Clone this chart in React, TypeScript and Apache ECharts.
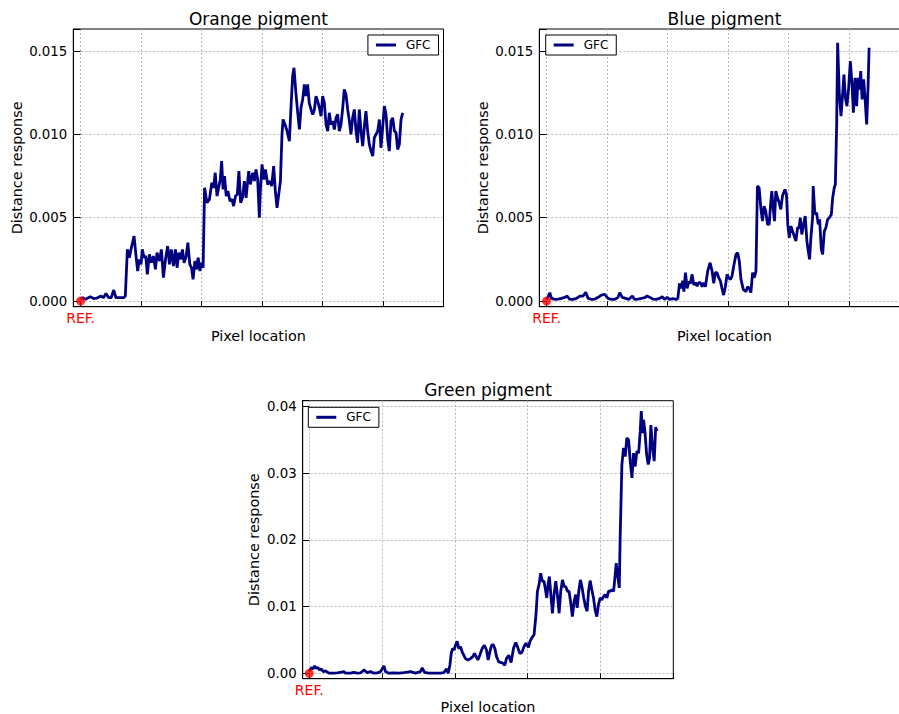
import React, { useEffect, useRef } from "react";
import * as echarts from "echarts";

// Pixel location (x) and distance response (y) of the GFC curve for each pigment
const orangeLocation = [
  0, 1.7, 3.9, 8, 10.8, 13.5, 17, 19, 21, 23.2, 25.4, 27.3, 29.3, 33, 35.6, 37, 38.7, 40.3, 42, 44.2,
  46, 47.2, 48.6, 50, 51, 52.5, 53.9, 55.2, 56.9, 58.6, 60.2, 61.9, 63.2, 65.2, 66.8, 68.5, 70.2, 72, 73.5, 75,
  76.8, 78.4, 79.8, 81.2, 82.9, 84.2, 85.6, 87.3, 88.7, 90.3, 91.7, 93, 94.5, 95.8, 97.2, 98.6, 100, 101.3, 102.5, 104.5,
  106.5, 108.5, 110, 111.3, 112.8, 114.4, 115.5, 116.6, 117.8, 119, 120.4, 121.8, 123.5, 125.2, 126.5, 128.1, 129.6, 130.9, 132.3, 133.8,
  135.4, 136.8, 139, 140.4, 142.3, 143.7, 145, 146.4, 147.8, 148.6, 150, 151.4, 152.8, 154.7, 156.6, 158, 159.6, 161, 162.4, 163.8,
  165.2, 166.5, 167.4, 169, 170.7, 172.6, 174, 175.3, 176.4, 178, 179.5, 180.9, 182.2, 183.6, 185, 186.4, 187.7, 189, 190.5, 191.9,
  193.3, 194.6, 196, 197.4, 198.8, 200.1, 201.5, 202.9, 204.3, 205.6, 207, 208.4, 209.8, 211.2, 212.5, 213.9, 215.3, 216.7, 218, 219.4,
  220.8, 222.2, 223.5, 224.9, 226.3, 227.7, 229, 230.4, 231.8, 233.2, 234.6, 235.9, 237.3, 238.7, 240.1, 241.5, 242.8, 244.2, 245.6, 247,
  248.3, 249.7, 251.1, 252.5, 253.9, 255.2, 256.6, 258, 259.4, 260.8, 262.1, 263.5, 264.9, 266.3,
];
const orangeResponse = [
  0.0001, 0.0002, 0.0001, 0.00026, 0.00015, 0.00018, 0.0003, 0.0002, 0.00046, 0.0002, 0.0002, 0.00066, 0.0002, 0.0002, 0.0002, 0.0003, 0.0031, 0.0026, 0.0032, 0.0039,
  0.0026, 0.0018, 0.0025, 0.0022, 0.0031, 0.0026, 0.0027, 0.0016, 0.0028, 0.0023, 0.0027, 0.0019, 0.0029, 0.0024, 0.0031, 0.0014, 0.0025, 0.0033, 0.0022, 0.0031,
  0.0021, 0.0031, 0.002, 0.0029, 0.0025, 0.0031, 0.0023, 0.0027, 0.0035, 0.0022, 0.002, 0.0013, 0.0024, 0.0019, 0.0026, 0.0018, 0.0023, 0.002, 0.0068, 0.0059,
  0.0061, 0.0071, 0.0068, 0.0077, 0.0063, 0.0069, 0.0073, 0.0084, 0.0067, 0.0075, 0.0063, 0.0066, 0.006, 0.0061, 0.0057, 0.0063, 0.0064, 0.0078, 0.0059, 0.0062,
  0.0072, 0.0062, 0.0078, 0.007, 0.0077, 0.0072, 0.0079, 0.0073, 0.005, 0.0066, 0.0082, 0.0073, 0.0079, 0.007, 0.0072, 0.0069, 0.0081, 0.0066, 0.0056, 0.0064,
  0.0072, 0.01, 0.0109, 0.0106, 0.0102, 0.0096, 0.0117, 0.0135, 0.014, 0.0125, 0.0113, 0.0103, 0.0116, 0.0121, 0.013, 0.0123, 0.013, 0.0119, 0.0115, 0.0112,
  0.0115, 0.0123, 0.012, 0.0116, 0.0111, 0.0123, 0.0119, 0.0106, 0.0102, 0.0113, 0.0106, 0.0108, 0.0103, 0.011, 0.0112, 0.0102, 0.0106, 0.0116, 0.0127, 0.0124,
  0.0115, 0.0108, 0.01, 0.011, 0.0115, 0.0102, 0.0095, 0.0115, 0.0102, 0.0093, 0.0105, 0.0114, 0.0102, 0.0094, 0.009, 0.0087, 0.0098, 0.01, 0.0102, 0.0109,
  0.0092, 0.0104, 0.0117, 0.0112, 0.0097, 0.009, 0.0108, 0.011, 0.0102, 0.0101, 0.0091, 0.0094, 0.0109, 0.0113,
];

const blueLocation = [
  0, 1.4, 2.7, 4.1, 6.9, 9.6, 12.4, 15.1, 17, 19.2, 22, 24.7, 27.5, 30.2, 32.4, 34.3, 37.1, 39.8, 42.6, 45.3,
  48.1, 50.8, 53.6, 56.3, 59.1, 60.4, 62.6, 65.4, 68.1, 70.9, 72.8, 75.5, 78.3, 81, 83.2, 85.2, 87.9, 90.7, 93.4, 95.6,
  97.5, 99.7, 101.6, 104.4, 107.1, 108.5, 109.9, 111.3, 112.6, 113.5, 114.8, 116.2, 117.6, 118.9, 120.3, 121.7, 123.1, 124.4, 125.8, 127.2,
  128.6, 129.9, 131.3, 133.2, 135.2, 136.8, 138.2, 139.5, 140.9, 142.3, 143.7, 145, 146.4, 147.8, 149.2, 150.5, 151.9, 153.3, 154.7, 156.6,
  158, 159.3, 160.7, 162.6, 164.8, 166.2, 167.6, 168.9, 170.3, 171.7, 173.1, 174.3, 175.7, 177.1, 178.5, 179.8, 181.2, 182.6, 184, 185.4,
  186.2, 187.3, 188.4, 189.5, 190.9, 192.3, 193.6, 195, 197, 198.3, 199.4, 200.6, 201.9, 203.3, 204.7, 206.1, 207.5, 208.8, 209.7, 211,
  212.4, 213.8, 215.2, 216.3, 217.4, 218.5, 219.9, 220.4, 221.8, 223.2, 224.6, 225.7, 227.1, 228.2, 229.6, 230.9, 232.3, 233.7, 235.4, 236.5,
  237.8, 238.7, 239.8, 240.6, 242, 243.4, 244.7, 245.8, 247, 248.3, 249.7, 251.1, 252.5, 253.6, 255, 256.3, 257.5, 258.6, 259.7, 260.8,
  262.1, 263.3, 264.6, 265.8, 266.6,
];
const blueResponse = [
  0.0001, 0.00026, 0.0005, 0.00016, 0.0001, 0.00012, 0.00016, 0.00022, 0.0003, 0.0001, 0.0001, 0.00016, 0.0003, 0.0003, 0.00052, 0.00016, 0.0001, 0.00012, 0.00022, 0.00036,
  0.0004, 0.00016, 0.0001, 0.0001, 0.00022, 0.0005, 0.00022, 0.00016, 0.0001, 0.0003, 0.0001, 0.00012, 0.00016, 0.0002, 0.0003, 0.00022, 0.00012, 0.0001, 0.00016, 0.00026,
  0.0001, 0.00022, 0.0001, 0.00014, 0.0001, 0.00014, 0.00106, 0.00076, 0.00122, 0.00056, 0.0017, 0.00076, 0.00116, 0.00106, 0.0016, 0.00096, 0.0011, 0.0009, 0.0011, 0.0011,
  0.00086, 0.0011, 0.00086, 0.0018, 0.0023, 0.0018, 0.00106, 0.0017, 0.0017, 0.0014, 0.0012, 0.00076, 0.00036, 0.00086, 0.0016, 0.0014, 0.0013, 0.0015, 0.0021, 0.0028,
  0.0029, 0.0024, 0.0013, 0.0007, 0.00056, 0.00086, 0.00076, 0.0005, 0.0017, 0.0014, 0.0018, 0.0069, 0.0068, 0.0056, 0.0048, 0.0057, 0.0054, 0.0046, 0.0046, 0.006,
  0.0066, 0.0056, 0.0048, 0.0066, 0.0062, 0.0059, 0.0055, 0.0063, 0.0067, 0.0064, 0.0046, 0.0038, 0.0045, 0.0042, 0.0039, 0.0036, 0.0044, 0.0044, 0.005, 0.004,
  0.0046, 0.0051, 0.0036, 0.003, 0.0025, 0.0038, 0.005, 0.0069, 0.0052, 0.0053, 0.0046, 0.0049, 0.0031, 0.0028, 0.0042, 0.0044, 0.0049, 0.005, 0.0052, 0.0062,
  0.0068, 0.007, 0.0106, 0.0155, 0.0124, 0.0111, 0.0124, 0.0136, 0.0122, 0.0117, 0.0128, 0.0144, 0.013, 0.0113, 0.0134, 0.0117, 0.0134, 0.0127, 0.0138, 0.0121,
  0.0133, 0.0121, 0.0106, 0.013, 0.0152,
];

const greenLocation = [
  0, 1.4, 2.5, 3.7, 4.8, 5.9, 7.1, 8.2, 9.6, 11.2, 13.5, 16.9, 19.2, 21.5, 23.8, 24.9, 28.4, 30.7, 32.9, 35.2,
  37.5, 39.8, 42.1, 44.4, 46.7, 49, 51.3, 52.4, 54.7, 58.1, 61.5, 65, 69.6, 73, 76.4, 77.6, 79.2, 82.1, 85.6, 90.1,
  92.4, 94.3, 95.4, 96.6, 97.5, 98.4, 99.5, 100.4, 101.6, 102.7, 103.9, 105, 106.2, 107.3, 108.9, 110.7, 112.3, 113.5, 114.6, 115.8,
  117.1, 118.7, 120.3, 121.7, 122.9, 124, 125.2, 126.3, 127.5, 128.6, 130.2, 131.8, 133.2, 134.3, 135.4, 137, 138.6, 140.3, 141.8, 143,
  144.5, 146, 147.5, 148.8, 150.5, 151.6, 152.8, 154.4, 155.7, 156.7, 157.8, 158.9, 160.1, 161.2, 162.4, 163.1, 164, 164.9, 166.1, 167,
  168.1, 169.3, 170.4, 171.6, 172.7, 173.9, 175, 176.2, 177.3, 178.4, 179.6, 180.7, 181.9, 183, 184, 185.1, 186.2, 187.4, 188.5, 189.7,
  190.8, 191.8, 192.9, 194.1, 195.2, 196.3, 197.5, 198.6, 199.8, 200.9, 202.1, 203.2, 204.4, 205.5, 206.7, 207.8, 209, 210.1, 210.8, 211.7,
  212.9, 213.5, 214.7, 215.8, 217, 218.1, 219.3, 220.4, 221.6, 222.7, 223.8, 225, 226.2, 227.3, 228, 228.9, 229.6, 230.5, 231.7, 232.8,
  233.7, 234.6, 235.8, 236.9, 237.9, 238.8,
];
const greenResponse = [
  0.00025, 0.00085, 0.00065, 0.0011, 0.00075, 0.00085, 0.0005, 0.00065, 0.00025, 0.00035, 0.00002, 0.00002, 0.00005, 0.00015, 0.00025, 0.00002, 0.00002, 0.00015, 0.00002, 0.00005,
  0.0005, 0.0001, 0.00025, 0.00002, 0.00005, 0.00025, 0.0011, 0.00025, 0.00002, 0.00005, 0.00002, 0.0001, 0.00025, 0.00002, 0.00025, 0.0008, 0.00015, 0.00002, 0.00002, 0.00002,
  0.0001, 0.00065, 0.00002, 0.00125, 0.003, 0.0037, 0.0035, 0.0042, 0.0048, 0.0037, 0.004, 0.0032, 0.0027, 0.0022, 0.002, 0.0022, 0.0025, 0.003, 0.0025, 0.002,
  0.0027, 0.0037, 0.0042, 0.0035, 0.002, 0.0032, 0.0042, 0.0043, 0.0037, 0.0025, 0.0017, 0.0016, 0.0015, 0.0012, 0.0022, 0.0027, 0.0016, 0.0038, 0.0046, 0.004,
  0.003, 0.0031, 0.004, 0.0045, 0.0039, 0.0048, 0.0053, 0.0058, 0.0088, 0.0123, 0.0133, 0.015, 0.0138, 0.0138, 0.0123, 0.0113, 0.0133, 0.0145, 0.0113, 0.009,
  0.0118, 0.0138, 0.0118, 0.009, 0.0123, 0.014, 0.013, 0.013, 0.0123, 0.0123, 0.0105, 0.0085, 0.0108, 0.0118, 0.0098, 0.0123, 0.014, 0.0128, 0.0113, 0.01,
  0.0093, 0.0123, 0.0139, 0.0125, 0.0113, 0.0095, 0.0085, 0.0103, 0.0113, 0.011, 0.0115, 0.0118, 0.0113, 0.0123, 0.0123, 0.0125, 0.0123, 0.0148, 0.0165, 0.0148,
  0.0128, 0.0203, 0.0313, 0.0338, 0.0325, 0.0353, 0.035, 0.0318, 0.0293, 0.033, 0.031, 0.0333, 0.033, 0.0363, 0.0393, 0.036, 0.038, 0.0363, 0.0328, 0.0313,
  0.0323, 0.0372, 0.0338, 0.0318, 0.0369, 0.0363,
];

// Reference pixel, marked in red at the origin of every panel
const refLocation = 0;
const refResponse = 0;

const FONT = "'DejaVu Sans', sans-serif";
const NAVY = "#000080";
const GRID_LINE = { color: "#b8b8b8", width: 1, type: [2, 2] as number[] };

type Panel = {
  title: string;
  xs: number[];
  ys: number[];
  left: number;
  top: number;
  width: number;
  height: number;
  xMin: number;
  xMax: number;
  yMin: number;
  yMax: number;
  yStep: number;
  decimals: number;
  yNameGap: number;
  xNameGap: number;
  legend: Record<string, number>;
};

// The blue panel is as wide as the others and runs past the right edge of the page.
const panels: Panel[] = [
  {
    title: "Orange pigment",
    xs: orangeLocation,
    ys: orangeResponse,
    left: 73.3, top: 29, width: 370.2, height: 277.7,
    xMin: -6, xMax: 300, yMin: -0.00034, yMax: 0.01633, yStep: 0.005, decimals: 3,
    yNameGap: 49, xNameGap: 22,
    legend: { right: 899 - 438.5, top: 35 },
  },
  {
    title: "Blue pigment",
    xs: blueLocation,
    ys: blueResponse,
    left: 539.3, top: 29, width: 370.2, height: 277.7,
    xMin: -6, xMax: 300, yMin: -0.00034, yMax: 0.01633, yStep: 0.005, decimals: 3,
    yNameGap: 49, xNameGap: 22,
    legend: { left: 545.7, top: 35 },
  },
  {
    title: "Green pigment",
    xs: greenLocation,
    ys: greenResponse,
    left: 302.7, top: 400.7, width: 370.6, height: 278,
    xMin: -4.5, xMax: 250, yMin: -0.00081, yMax: 0.04087, yStep: 0.01, decimals: 2,
    yNameGap: 42, xNameGap: 21,
    legend: { left: 308.3, top: 407.3 },
  },
];

function tickText(v: number, step: number, decimals: number): string {
  const k = Math.round(v / step);
  return Math.abs(v - k * step) < step * 1e-6 ? (k * step).toFixed(decimals) : "";
}

function buildOption() {
  const grid: any[] = [];
  const xAxis: any[] = [];
  const yAxis: any[] = [];
  const series: any[] = [];
  const title: any[] = [];
  const legend: any[] = [];

  panels.forEach((p, i) => {
    grid.push({
      left: p.left, top: p.top, width: p.width, height: p.height,
      outerBoundsMode: "none", containLabel: false,
      show: true, borderColor: "#000", borderWidth: 1, backgroundColor: "#fff",
    });

    const tick = { show: true, inside: true, length: 4, lineStyle: { color: "#000", width: 1 } };

    xAxis.push({
      type: "value", gridIndex: i, position: "bottom",
      min: p.xMin, max: p.xMax, minInterval: 50, maxInterval: 50,
      axisLine: { show: true, onZero: false, lineStyle: { color: "#000", width: 1 } },
      axisTick: tick,
      splitLine: { show: true, showMinLine: false, showMaxLine: false, lineStyle: GRID_LINE },
      axisLabel: {
        formatter: (v: number) => (Math.abs(v - refLocation) < 1e-9 ? "REF." : ""),
        color: "#ff0000", fontSize: 14, fontFamily: FONT, margin: 4,
      },
      name: "Pixel location", nameLocation: "middle", nameGap: p.xNameGap,
      nameTextStyle: { color: "#000", fontSize: 14.4, lineHeight: 14, fontFamily: FONT },
    });
    xAxis.push({
      type: "value", gridIndex: i, position: "top",
      min: p.xMin, max: p.xMax, minInterval: 50, maxInterval: 50,
      axisLine: { show: false }, axisTick: tick, axisLabel: { show: false }, splitLine: { show: false },
    });

    yAxis.push({
      type: "value", gridIndex: i, position: "left",
      min: p.yMin, max: p.yMax, minInterval: p.yStep, maxInterval: p.yStep,
      axisLine: { show: true, onZero: false, lineStyle: { color: "#000", width: 1 } },
      axisTick: tick,
      splitLine: { show: true, showMinLine: false, showMaxLine: false, lineStyle: GRID_LINE },
      axisLabel: {
        formatter: (v: number) => tickText(v, p.yStep, p.decimals),
        color: "#000", fontSize: 13.33, fontFamily: FONT, margin: 6,
      },
      name: "Distance response", nameLocation: "middle", nameGap: p.yNameGap,
      nameTextStyle: { color: "#000", fontSize: 14.4, fontFamily: FONT },
    });
    yAxis.push({
      type: "value", gridIndex: i, position: "right",
      min: p.yMin, max: p.yMax, minInterval: p.yStep, maxInterval: p.yStep,
      axisLine: { show: false }, axisTick: tick, axisLabel: { show: false }, splitLine: { show: false },
    });

    series.push({
      type: "line", name: "GFC",
      xAxisIndex: 2 * i, yAxisIndex: 2 * i,
      data: p.xs.map((x, k) => [x, p.ys[k]]),
      showSymbol: false, symbol: "none",
      lineStyle: { color: NAVY, width: 2.8 },
      itemStyle: { color: NAVY },
      z: 3,
    });
    series.push({
      type: "scatter", name: "REF",
      xAxisIndex: 2 * i, yAxisIndex: 2 * i,
      data: [[refLocation, refResponse]],
      symbolSize: 9, itemStyle: { color: "#ff0000" },
      clip: false, z: 4,
    });

    title.push({
      text: p.title, left: p.left + p.width / 2, top: p.top - 19, textAlign: "center", padding: 0,
      textStyle: { color: "#000", fontSize: 17, fontWeight: "normal", fontFamily: FONT },
    });

    legend.push({
      ...p.legend,
      data: ["GFC"], orient: "horizontal",
      icon: "rect", itemWidth: 20, itemHeight: 3, itemGap: 0,
      borderColor: "#000", borderWidth: 1, backgroundColor: "#fff", borderRadius: 0,
      padding: [4, 8, 4, 8],
      textStyle: { color: "#000", fontSize: 12, fontFamily: FONT, padding: [0, 0, 0, 5] },
      selectedMode: false,
    });
  });

  return { animation: false, backgroundColor: "#fff", grid, xAxis, yAxis, series, title, legend };
}

export default function App() {
  const ref = useRef<HTMLDivElement>(null);

  useEffect(() => {
    if (!ref.current) return;
    const chart = echarts.init(ref.current, null, { renderer: "svg" });
    chart.setOption(buildOption());
    return () => chart.dispose();
  }, []);

  return (
    <div
      ref={ref}
      style={{ position: "absolute", left: 0, top: 0, width: 899, height: 714, background: "#fff" }}
    />
  );
}
